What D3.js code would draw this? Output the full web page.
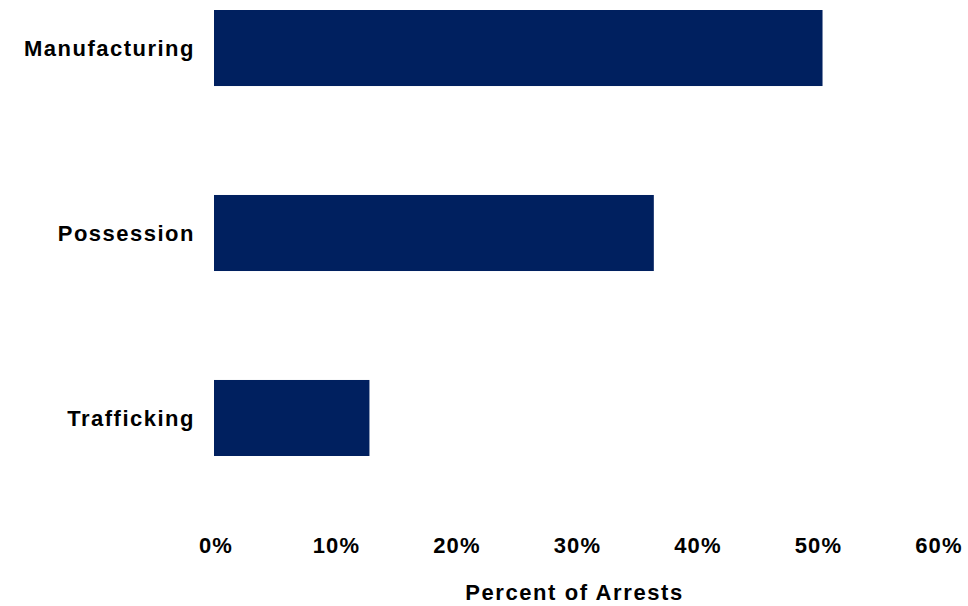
<!DOCTYPE html>
<html>
<head>
<meta charset="utf-8">
<script src="https://cdn.jsdelivr.net/npm/d3@7"></script>
<style>
  html, body { margin: 0; padding: 0; background: #fff; }
  svg { display: block; }
  text { font-family: "Liberation Sans", Arial, sans-serif; font-weight: bold; fill: #000; }
</style>
</head>
<body>
<svg id="chart" width="968" height="606"></svg>
<script>
const categories = ["Manufacturing", "Possession", "Trafficking"];
const values = [0.505, 0.365, 0.129];
const tickValues = [0, 0.1, 0.2, 0.3, 0.4, 0.5, 0.6];
const axisTitle = "Percent of Arrests";

const svg = d3.select("#chart");
const x = d3.scaleLinear().domain([0, 0.6]).range([214, 937]);
const y = d3.scaleBand().domain(categories).range([10, 456]).paddingInner(0.589).paddingOuter(0);

svg.append("g").selectAll("rect")
  .data(categories)
  .join("rect")
  .attr("x", x(0))
  .attr("y", d => y(d))
  .attr("width", (d, i) => x(values[i]) - x(0))
  .attr("height", y.bandwidth())
  .attr("fill", "#00205F");

// category labels
svg.append("g").selectAll("text")
  .data(categories)
  .join("text")
  .attr("x", 195)
  .attr("y", d => y(d) + y.bandwidth() / 2)
  .attr("dy", "0.35em")
  .attr("text-anchor", "end")
  .style("font-size", "22px")
  .style("letter-spacing", "1.5px")
  .text(d => d);

// x axis tick labels
const xAxis = d3.axisBottom(x).tickValues(tickValues).tickFormat(d3.format(".0%")).tickSize(0).tickPadding(0);
const gx = svg.append("g").attr("transform", "translate(1.5,537)").call(xAxis);
gx.select(".domain").remove();
gx.selectAll("text")
  .attr("dy", "0.71em")
  .style("font-family", "'Liberation Sans', Arial, sans-serif")
  .style("font-weight", "bold")
  .style("font-size", "22px")
  .style("letter-spacing", "1.2px")
  .attr("fill", "#000");

svg.append("text")
  .attr("x", (x(0) + x(0.6)) / 2 - 1)
  .attr("y", 600)
  .attr("text-anchor", "middle")
  .style("font-size", "22px")
  .style("letter-spacing", "1.6px")
  .text(axisTitle);
</script>
</body>
</html>
